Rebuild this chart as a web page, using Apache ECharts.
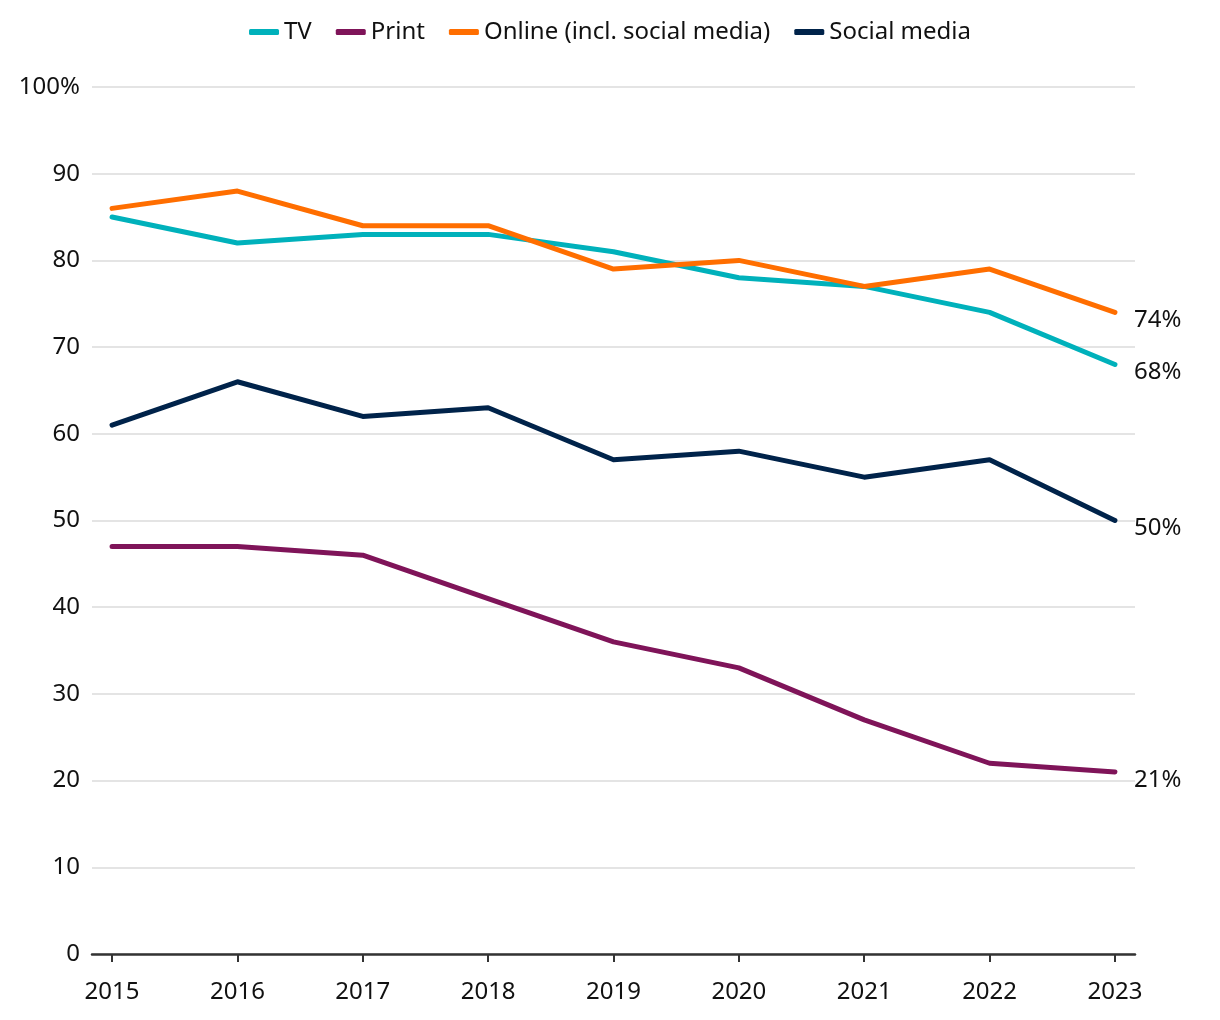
<!DOCTYPE html>
<html><head><meta charset="utf-8">
<script src="https://cdn.jsdelivr.net/npm/echarts@6/dist/echarts.min.js"></script>
<style>html,body{margin:0;padding:0;background:#fff}#c{width:1220px;height:1020px}</style>
</head><body><div id="c"></div>
<script>
const years = [2015, 2016, 2017, 2018, 2019, 2020, 2021, 2022, 2023];
const tv = [85, 82, 83, 83, 81, 78, 77, 74, 68];
const print = [47, 47, 46, 41, 36, 33, 27, 22, 21];
const online = [86, 88, 84, 84, 79, 80, 77, 79, 74];
const social = [61, 66, 62, 63, 57, 58, 55, 57, 50];
const yTicks = [0, 10, 20, 30, 40, 50, 60, 70, 80, 90, 100];

const FONT = 'Noto Sans';
const FS = 24;
function mk(name, arr, color) {
  return {
    name: name, type: 'line', data: years.map((y, i) => [y, arr[i]]),
    symbol: 'none', lineStyle: {width: 5, color: color, cap: 'round', join: 'round'},
    itemStyle: {color: color},
    endLabel: {show: true, formatter: p => p.value[1] + '%', color: '#111', fontSize: FS,
      fontFamily: FONT, distance: 19, offset: [0, 8]}
  };
}
const chart = echarts.init(document.getElementById('c'));
chart.setOption({
  animation: false,
  legend: {top: 15, left: 'center', icon: 'roundRect', itemWidth: 30, itemHeight: 6, itemGap: 24,
    textStyle: {fontSize: FS, fontFamily: FONT, color: '#111'},
    data: ['TV', 'Print', 'Online (incl. social media)', 'Social media']},
  grid: {left: 92, right: 85, top: 87, bottom: 66, containLabel: false},
  xAxis: {type: 'value', min: 2014.84, max: 2023.16,
    axisLine: {show: true, lineStyle: {color: '#333', width: 2.5}},
    axisTick: {show: true, customValues: years, length: 8, lineStyle: {color: '#333', width: 2}},
    axisLabel: {customValues: years, formatter: v => String(v), fontSize: FS, fontFamily: FONT, color: '#111', margin: 26},
    splitLine: {show: false}},
  yAxis: {type: 'value', min: 0, max: 100, interval: 10,
    axisLine: {show: false}, axisTick: {show: false},
    axisLabel: {customValues: yTicks, formatter: v => v === 100 ? '100%' : String(v), fontSize: FS, fontFamily: FONT, color: '#111', margin: 12},
    splitLine: {lineStyle: {color: '#e4e4e4', width: 2}}},
  series: [
    mk('TV', tv, '#00b1bb'),
    mk('Print', print, '#7f1459'),
    mk('Online (incl. social media)', online, '#ff6e00'),
    mk('Social media', social, '#00234a')
  ]
});
</script></body></html>
